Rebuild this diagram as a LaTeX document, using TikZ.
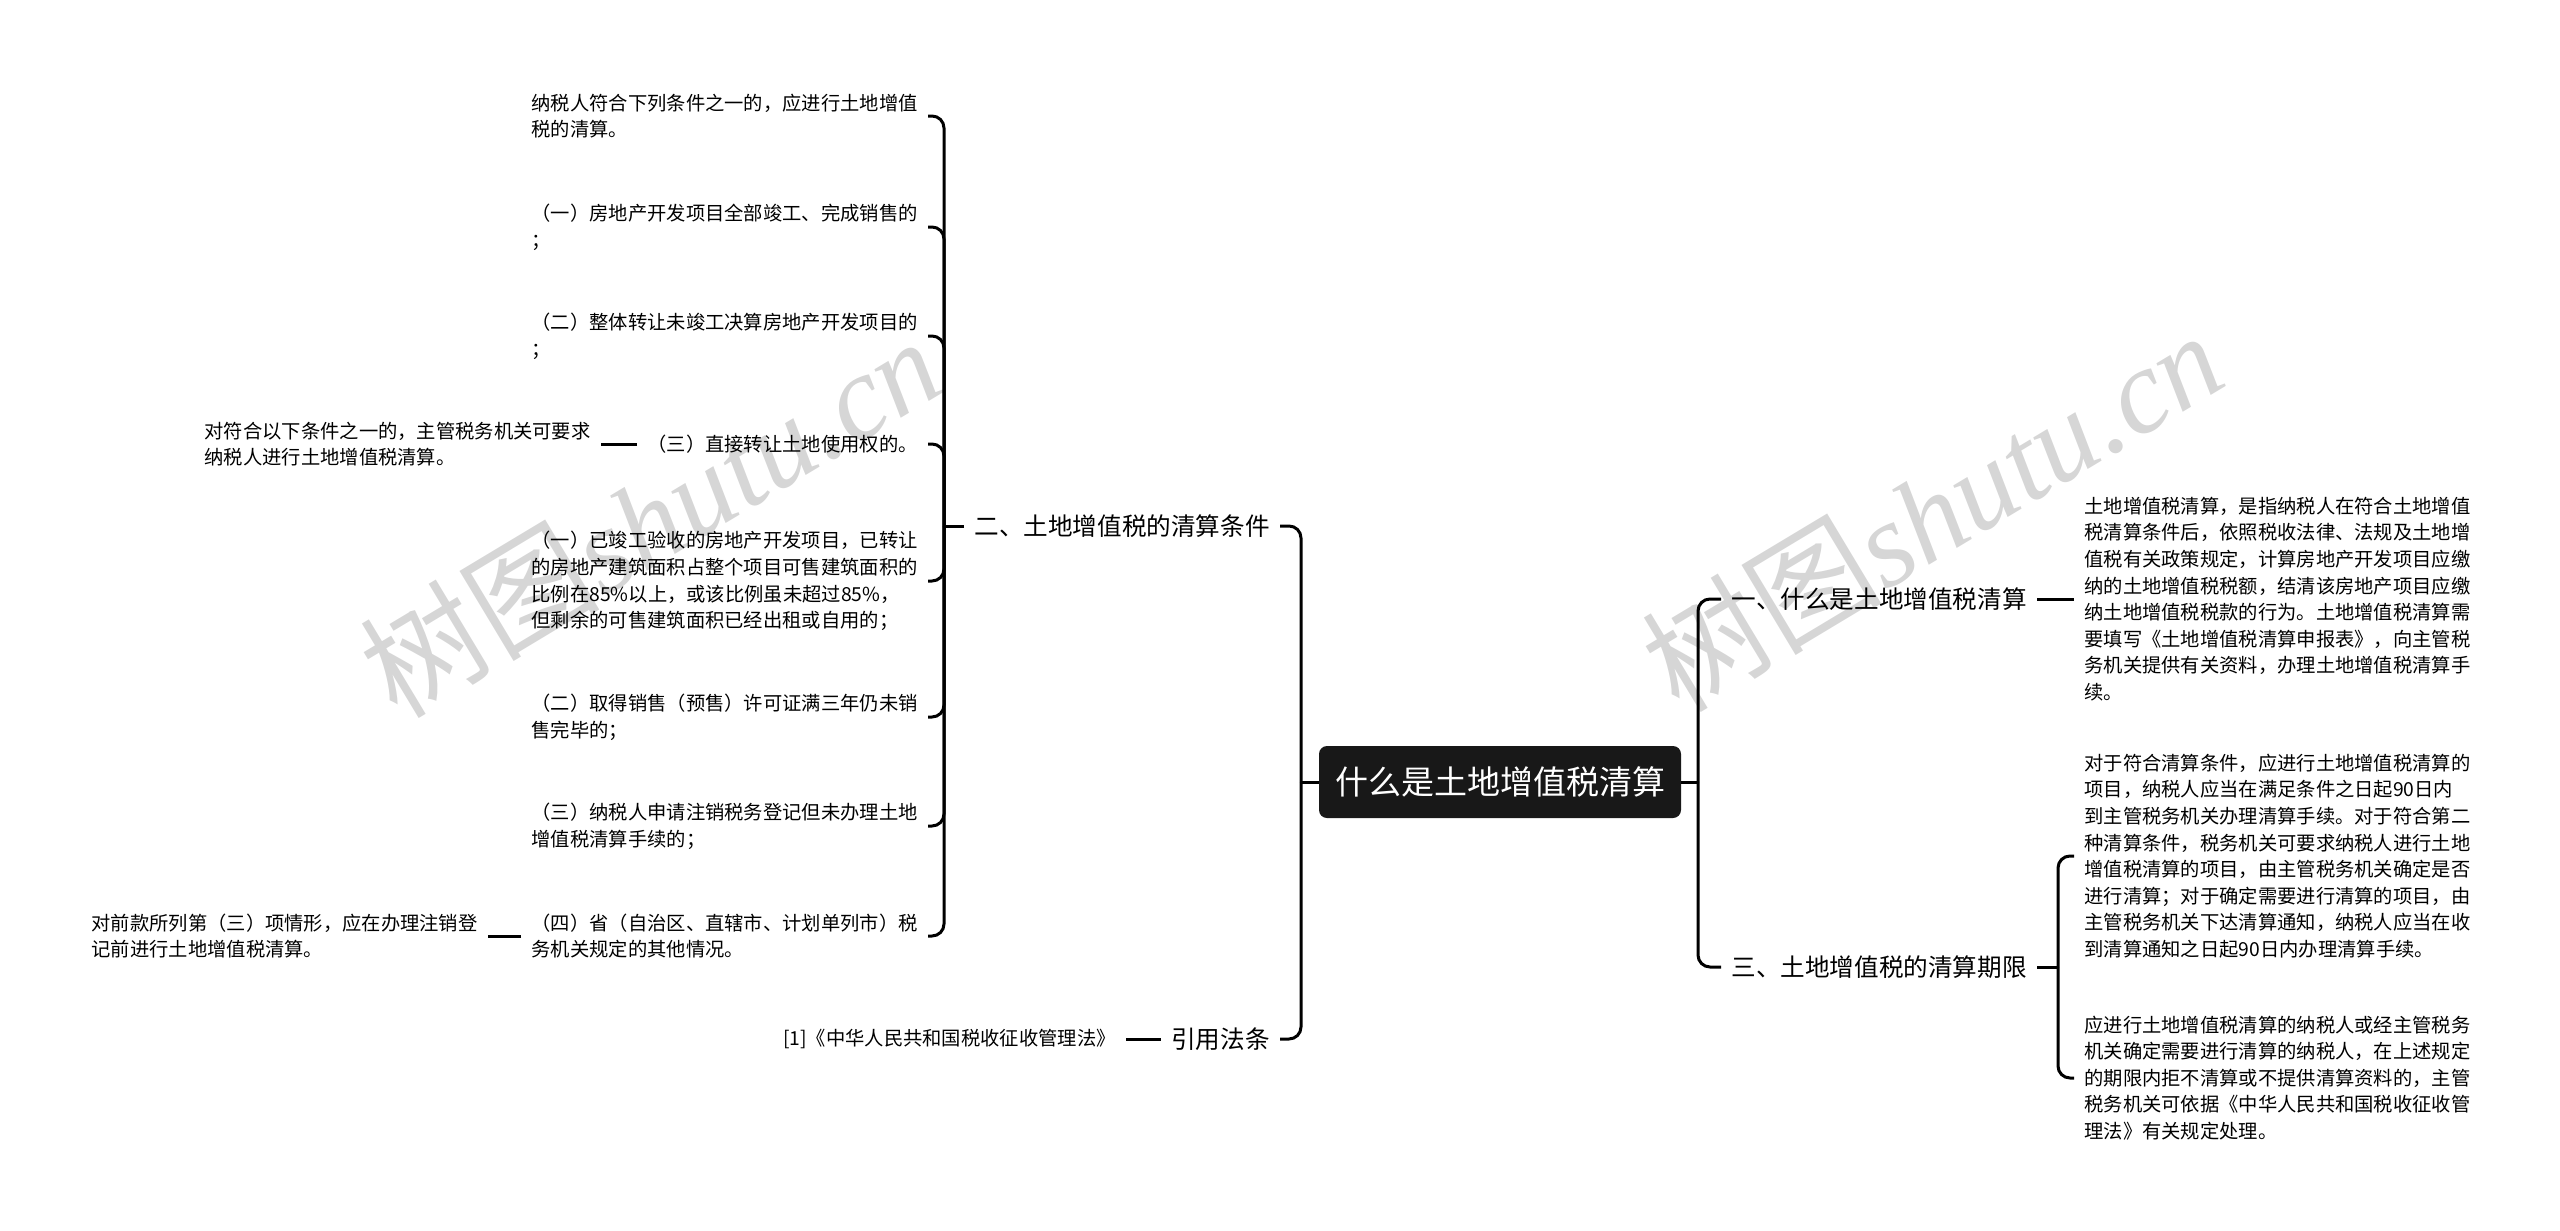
\documentclass[tikz,border=0pt]{standalone}
\usepackage{fontspec}
\setmainfont{Noto Sans CJK SC}
\newfontfamily\wmlatin{Liberation Serif}
\definecolor{rootfill}{RGB}{24,24,24}
\definecolor{wmgray}{RGB}{214,214,214}
\tikzset{
  conn/.style={line width=1.5pt,rounded corners=6pt},
  rootbox/.style={fill=rootfill,text=white,rounded corners=4pt,minimum width=181pt,minimum height=36pt,font=\fontsize{16.5}{20}\selectfont},
  branch/.style={inner xsep=5pt,inner ysep=2pt,font=\fontsize{12.3}{15}\selectfont},
  leaf/.style={inner xsep=5pt,inner ysep=2pt,align=left,font=\fontsize{9.65}{13.3}\selectfont},
  wmark/.style={text=wmgray,rotate=31,font=\fontsize{60}{60}\selectfont}
}
\begin{document}
\begin{tikzpicture}[x=.5pt,y=-.5pt]
\useasboundingbox (0,0) rectangle (2560,1231);
\node[wmark] (wm1) at (650,516) {树图{\wmlatin\itshape shutu.cn}};
\node[wmark] (wm2) at (1932,510) {树图{\wmlatin\itshape shutu.cn}};
\node[rootbox] (root) at (1500,782) {什么是土地增值税清算};
\coordinate (lbus) at (1301,782);
\coordinate (rbus) at (1698,782);
\draw[conn] (root.west) -- (lbus);
\draw[conn] (root.east) -- (rbus);
\node[branch,anchor=east] (b2) at (1280,526) {二、土地增值税的清算条件};
\node[branch,anchor=east] (b4) at (1280,1039) {引用法条};
\node[branch,anchor=west] (b1) at (1721,599) {一、什么是土地增值税清算};
\node[branch,anchor=west] (b3) at (1721,967) {三、土地增值税的清算期限};
\foreach \b in {b2,b4}{\draw[conn] (lbus) |- (\b.east);}
\foreach \b in {b1,b3}{\draw[conn] (rbus) |- (\b.west);}
\coordinate (k2) at (944,526);
\draw[conn] (b2.west) -- (k2);
\foreach \i/\y/\t in {
  1/116/{纳税人符合下列条件之一的，应进行土地增值\\税的清算。},
  2/227/{（一）房地产开发项目全部竣工、完成销售的\\；},
  3/336/{（二）整体转让未竣工决算房地产开发项目的\\；},
  4/444/{（三）直接转让土地使用权的。},
  5/581/{（一）已竣工验收的房地产开发项目，已转让\\的房地产建筑面积占整个项目可售建筑面积的\\比例在85\%以上，或该比例虽未超过85\%，\\但剩余的可售建筑面积已经出租或自用的；},
  6/717/{（二）取得销售（预售）许可证满三年仍未销\\售完毕的；},
  7/826/{（三）纳税人申请注销税务登记但未办理土地\\增值税清算手续的；},
  8/936/{（四）省（自治区、直辖市、计划单列市）税\\务机关规定的其他情况。}}{
  \node[leaf,anchor=east] (c\i) at (928,\y) {\t};
  \draw[conn] (k2) |- (c\i.east);
}
\node[leaf,anchor=east] (e4) at (601,444) {对符合以下条件之一的，主管税务机关可要求\\纳税人进行土地增值税清算。};
\draw[conn] (c4.west) -- (e4.east);
\node[leaf,anchor=east] (e8) at (488,936) {对前款所列第（三）项情形，应在办理注销登\\记前进行土地增值税清算。};
\draw[conn] (c8.west) -- (e8.east);
\node[leaf,anchor=east] (law) at (1126,1039) {[1]《中华人民共和国税收征收管理法》};
\draw[conn] (b4.west) -- (law.east);
\node[leaf,anchor=west] (d1) at (2074,599) {土地增值税清算，是指纳税人在符合土地增值\\税清算条件后，依照税收法律、法规及土地增\\值税有关政策规定，计算房地产开发项目应缴\\纳的土地增值税税额，结清该房地产项目应缴\\纳土地增值税税款的行为。土地增值税清算需\\要填写《土地增值税清算申报表》，向主管税\\务机关提供有关资料，办理土地增值税清算手\\续。};
\draw[conn] (b1.east) -- (d1.west);
\coordinate (k3) at (2058,967);
\draw[conn] (b3.east) -- (k3);
\node[leaf,anchor=west] (d2) at (2074,856) {对于符合清算条件，应进行土地增值税清算的\\项目，纳税人应当在满足条件之日起90日内\\到主管税务机关办理清算手续。对于符合第二\\种清算条件，税务机关可要求纳税人进行土地\\增值税清算的项目，由主管税务机关确定是否\\进行清算；对于确定需要进行清算的项目，由\\主管税务机关下达清算通知，纳税人应当在收\\到清算通知之日起90日内办理清算手续。};
\node[leaf,anchor=west] (d3) at (2074,1078) {应进行土地增值税清算的纳税人或经主管税务\\机关确定需要进行清算的纳税人，在上述规定\\的期限内拒不清算或不提供清算资料的，主管\\税务机关可依据《中华人民共和国税收征收管\\理法》有关规定处理。};
\foreach \d in {d2,d3}{\draw[conn] (k3) |- (\d.west);}
\end{tikzpicture}
\end{document}
